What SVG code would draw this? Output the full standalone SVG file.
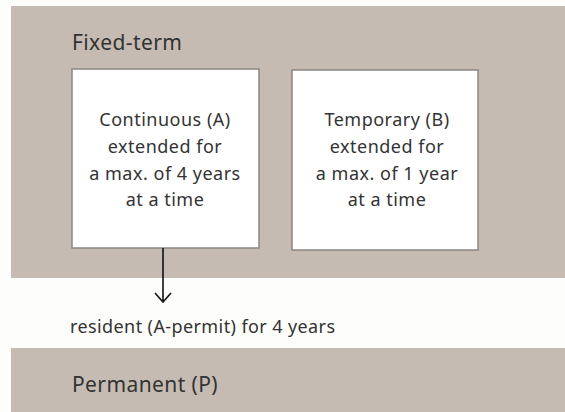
<svg xmlns="http://www.w3.org/2000/svg" width="565" height="412" viewBox="0 0 565 412">
<style>
.band{fill:#c6bbb2}
.box{fill:#fff;stroke:#8a8682;stroke-width:1.5}
.t{font-family:"Noto Sans","Lato",sans-serif;fill:#333}
.h{font-size:21px;letter-spacing:0.4px}
.b{font-size:18px;letter-spacing:0.5px;text-anchor:middle}
.s{font-size:18px;letter-spacing:0.4px}
</style>
<defs>
<marker id="arr" viewBox="0 0 12 18" refX="11" refY="9" markerWidth="12" markerHeight="18" markerUnits="userSpaceOnUse" orient="auto">
<path d="M2,1 L11,9 L2,17" fill="none" stroke="#111" stroke-width="1.6"/>
</marker>
</defs>
<rect width="565" height="412" fill="#fdfdfb"/>
<g id="fixed-term">
<rect class="band" x="11" y="6" width="554" height="272"/>
<text class="t h" x="72" y="50">Fixed-term</text>
</g>
<g id="permanent">
<rect class="band" x="11" y="348" width="554" height="64"/>
<text class="t h" x="72" y="392">Permanent (P)</text>
</g>
<g id="continuous">
<rect class="box" x="72" y="69" width="187" height="179"/>
<text class="t b" x="165" y="126">Continuous (A)</text>
<text class="t b" x="165" y="153">extended for</text>
<text class="t b" x="165" y="180">a max. of 4 years</text>
<text class="t b" x="165" y="206">at a time</text>
</g>
<g id="temporary">
<rect class="box" x="292" y="70" width="186" height="180"/>
<text class="t b" x="387" y="126">Temporary (B)</text>
<text class="t b" x="387" y="153">extended for</text>
<text class="t b" x="387" y="180">a max. of 1 year</text>
<text class="t b" x="387" y="206">at a time</text>
</g>
<g id="connectors">
<line x1="163" y1="248" x2="163" y2="302" stroke="#111" stroke-width="1.6" marker-end="url(#arr)"/>
<text class="t s" x="70" y="333">resident (A-permit) for 4 years</text>
</g>
</svg>
